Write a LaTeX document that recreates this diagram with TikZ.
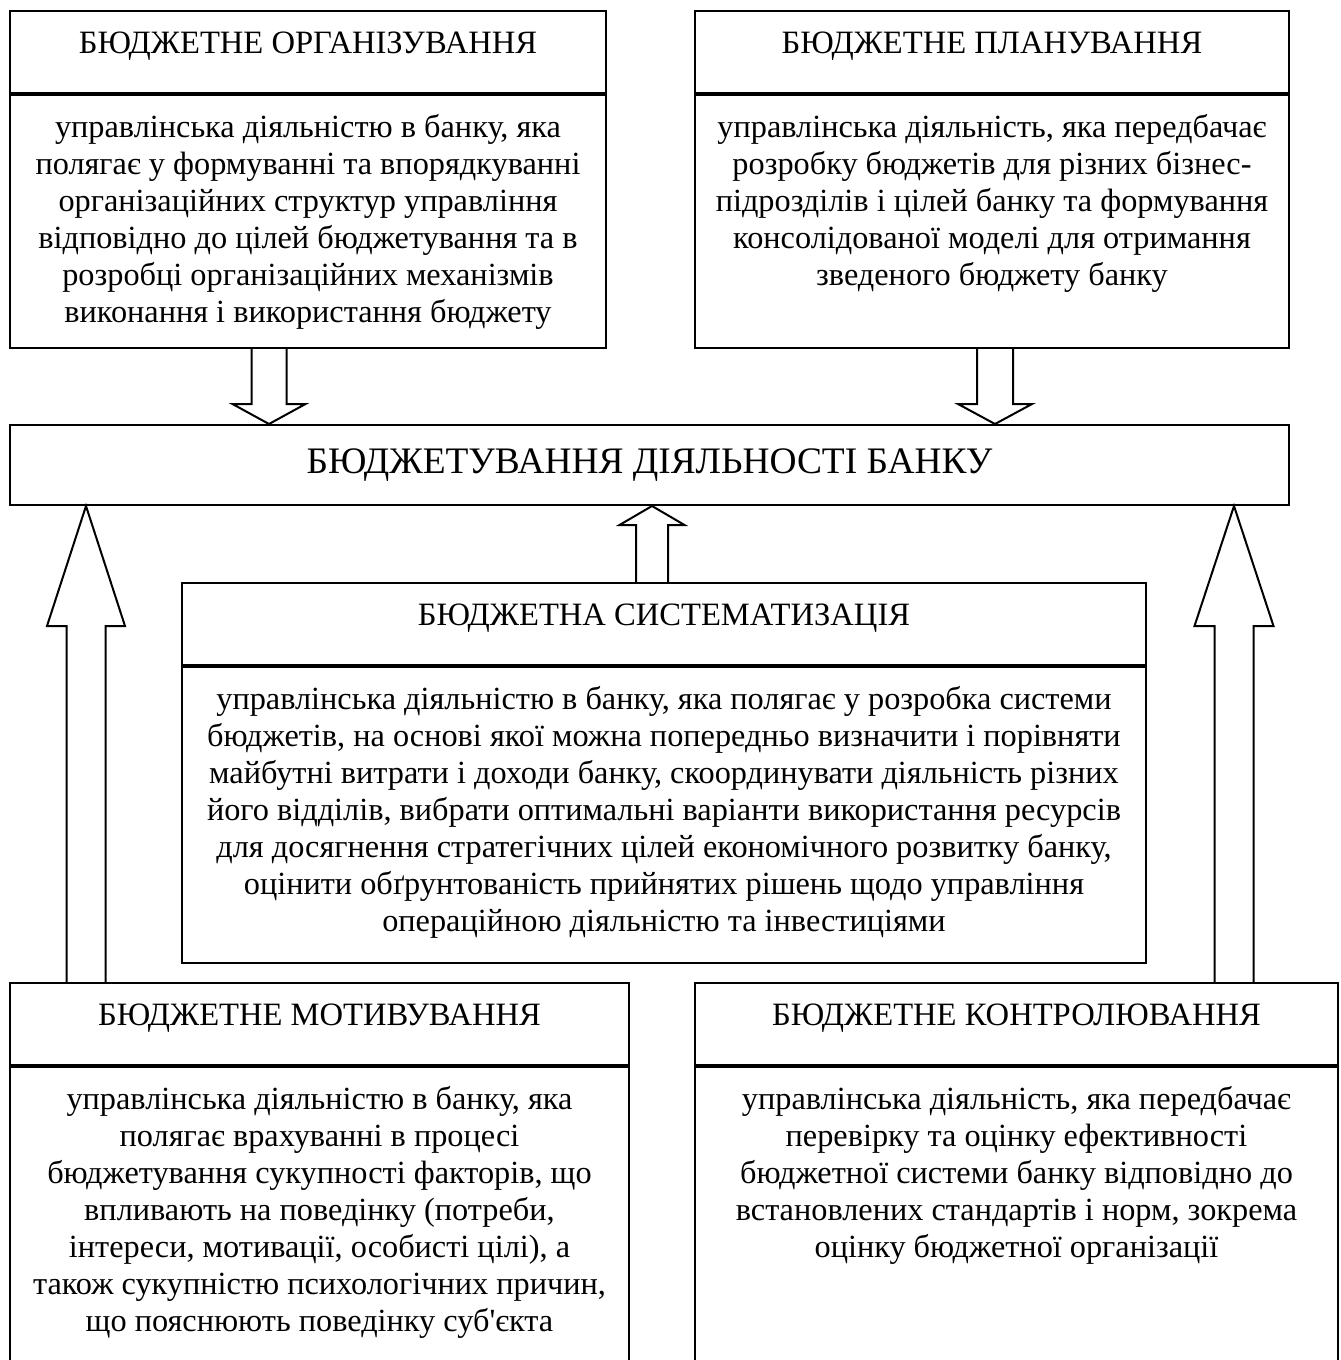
\documentclass[tikz,border=0pt]{standalone}
\usepackage{fontspec}
\setmainfont{Liberation Serif}
\usetikzlibrary{positioning,calc}

% hollow block arrow: start, tip, half shaft, half head, head length
\newcommand{\blockarrow}[5]{%
  \coordinate (hb) at ($(#2)!#5!(#1)$);
  \draw[blk] ($(#1)!#3!90:(#2)$) -- ($(hb)!#3!90:(#2)$) -- ($(hb)!#4!90:(#2)$) -- (#2)
    -- ($(hb)!#4!-90:(#2)$) -- ($(hb)!#3!-90:(#2)$) -- ($(#1)!#3!-90:(#2)$);}

\begin{document}
\begin{tikzpicture}[x=1pt,y=-1pt,line width=2pt,
  head/.style={rectangle,draw,inner sep=0pt,anchor=north,text height=42pt,text depth=40pt,
               font=\fontsize{32.6}{37}\selectfont},
  frame/.style={rectangle,draw,inner sep=0pt},
  txt/.style={align=center,inner sep=0pt,font=\fontsize{32.3}{37}\selectfont},
  title/.style={rectangle,draw,inner sep=0pt,anchor=north,minimum height=80pt,
               font=\fontsize{37.4}{42}\selectfont},
  blk/.style={draw,line join=miter}]

  \useasboundingbox (0,0) rectangle (1341,1360);
  \clip (0,0) rectangle (1341,1360);

  % top boxes
  \node[head, minimum width=596pt] (orgH) at (308,10) {БЮДЖЕТНЕ ОРГАНІЗУВАННЯ};
  \node[frame, minimum width=596pt, minimum height=253pt, below=0pt of orgH] (orgB) {};
  \node[txt, below=19pt of orgB.north] (orgT) {управлінська діяльністю в банку, яка\\
    полягає у формуванні та впорядкуванні\\ організаційних структур управління\\
    відповідно до цілей бюджетування та в\\ розробці організаційних механізмів\\
    виконання і використання бюджету};

  \node[head, minimum width=594pt] (plnH) at (992,10) {БЮДЖЕТНЕ ПЛАНУВАННЯ};
  \node[frame, minimum width=594pt, minimum height=253pt, below=0pt of plnH] (plnB) {};
  \node[txt, below=19pt of plnB.north] (plnT) {управлінська діяльність, яка передбачає\\
    розробку бюджетів для різних бізнес-\\ підрозділів і цілей банку та формування\\
    консолідованої моделі для отримання\\ зведеного бюджету банку};

  % main box
  \node[title, minimum width=1279pt] (budg) at (649.5,424) {БЮДЖЕТУВАННЯ ДІЯЛЬНОСТІ БАНКУ};

  % middle box
  \node[head, minimum width=964pt] (sysH) at (664,582) {БЮДЖЕТНА СИСТЕМАТИЗАЦІЯ};
  \node[frame, minimum width=964pt, minimum height=296pt, below=0pt of sysH] (sysB) {};
  \node[txt, below=19pt of sysB.north] (sysT) {управлінська діяльністю в банку, яка полягає у розробка системи\\
    бюджетів, на основі якої можна попередньо визначити і порівняти\\
    майбутні витрати і доходи банку, скоординувати діяльність різних\\
    його відділів, вибрати оптимальні варіанти використання ресурсів\\
    для досягнення стратегічних цілей економічного розвитку банку,\\
    оцінити обґрунтованість прийнятих рішень щодо управління\\
    операційною діяльністю та інвестиціями};

  % bottom boxes
  \node[head, minimum width=619pt] (motH) at (319.5,982) {БЮДЖЕТНЕ МОТИВУВАННЯ};
  \node[frame, minimum width=619pt, minimum height=340pt, below=0pt of motH] (motB) {};
  \node[txt, below=19pt of motB.north] (motT) {управлінська діяльністю в банку, яка\\
    полягає врахуванні в процесі\\ бюджетування сукупності факторів, що\\
    впливають на поведінку (потреби,\\ інтереси, мотивації, особисті цілі), а\\
    також сукупністю психологічних причин,\\ що пояснюють поведінку суб\textquotesingle єкта};

  \node[head, minimum width=643pt] (ctrH) at (1016.5,982) {БЮДЖЕТНЕ КОНТРОЛЮВАННЯ};
  \node[frame, minimum width=643pt, minimum height=340pt, below=0pt of ctrH] (ctrB) {};
  \node[txt, below=19pt of ctrB.north] (ctrT) {управлінська діяльність, яка передбачає\\
    перевірку та оцінку ефективності\\ бюджетної системи банку відповідно до\\
    встановлених стандартів і норм, зокрема\\ оцінку бюджетної організації};

  % arrow ends
  \coordinate (a1s) at (orgB.south -| 269,0);
  \coordinate (a1e) at (budg.north -| 269,0);
  \coordinate (a2s) at (plnB.south -| 995,0);
  \coordinate (a2e) at (budg.north -| 995,0);
  \coordinate (a3s) at (sysH.north -| 652,0);
  \coordinate (a3e) at (budg.south -| 652,0);
  \coordinate (a4s) at (motH.north -| 86,0);
  \coordinate (a4e) at (budg.south -| 86,0);
  \coordinate (a5s) at (ctrH.north -| 1234,0);
  \coordinate (a5e) at (budg.south -| 1234,0);

  \foreach \s/\e/\r/\w/\l in {a1s/a1e/17.5pt/36.5pt/20pt, a2s/a2e/18pt/37pt/20pt,
      a3s/a3e/16pt/32.5pt/19pt, a4s/a4e/19.5pt/39pt/120pt, a5s/a5e/19.5pt/39.5pt/120pt}
    {\blockarrow{\s}{\e}{\r}{\w}{\l}}

\end{tikzpicture}
\end{document}
